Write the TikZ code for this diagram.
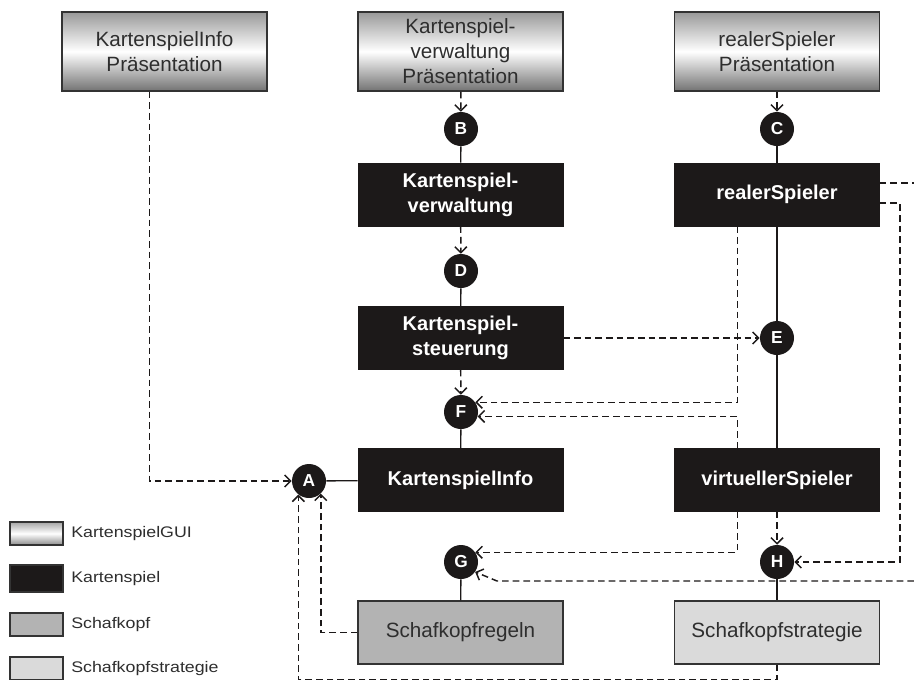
\documentclass[tikz,border=0pt]{standalone}
\usepackage{fontspec}
\setmainfont{Liberation Sans}
\usetikzlibrary{arrows.meta,calc}
\definecolor{boxblack}{HTML}{1C1919}
\definecolor{schaf}{HTML}{B3B3B3}
\definecolor{strat}{HTML}{DADADA}
\definecolor{edgegray}{HTML}{333333}
\definecolor{txtgray}{HTML}{2E2E2E}
\begin{document}
\begin{tikzpicture}[x=0.75pt,y=-0.75pt,
  gui/.style={draw=edgegray, line width=0.9pt, top color=black!40, bottom color=black!55, middle color=white,
    minimum width=153.75pt, minimum height=59.25pt, inner sep=0pt, align=center, text=txtgray,
    font=\fontsize{15.5}{18.75}\selectfont},
  kbox/.style={draw=boxblack, fill=boxblack, minimum width=153.75pt, minimum height=47.25pt,
    inner sep=0pt, align=center, text=white, font=\bfseries\fontsize{15}{18.75}\selectfont},
  sbox/.style={draw=edgegray, line width=0.9pt, minimum width=153.75pt, minimum height=47.25pt,
    inner sep=0pt, align=center, text=txtgray, font=\fontsize{15.5}{18.75}\selectfont},
  circ/.style={circle, fill=boxblack, minimum size=25.5pt, inner sep=0pt, text=white,
    font=\bfseries\fontsize{13}{13}\selectfont},
  solidline/.style={draw=boxblack, line width=1pt},
  dashline/.style={draw=boxblack, line width=1.1pt, dash pattern=on 5pt off 3pt},
  dep/.style={dashline, -{Straight Barb[length=4.5pt,width=9pt,line width=1.1pt]}},
  legbox/.style={draw=edgegray, line width=0.9pt, minimum width=39.75pt, minimum height=17.25pt, inner sep=0pt},
  legtext/.style={anchor=west, inner sep=0pt, text=txtgray, font=\fontsize{11.5}{12}\selectfont}
]
\useasboundingbox[fill=white] (0,0) rectangle (914,679);

% top GUI boxes
\node[gui] (kip) at (164.5,51.5) {KartenspielInfo\\Präsentation};
\node[gui] (kvp) at (460.5,51.5) {Kartenspiel-\\verwaltung\\Präsentation};
\node[gui] (rsp) at (777,51.5) {realerSpieler\\Präsentation};

% black boxes
\node[kbox] (kv) at (460.5,194.5) {Kartenspiel-\\verwaltung};
\node[kbox] (ks) at (460.5,338) {Kartenspiel-\\steuerung};
\node[kbox] (ki) at (460.5,480) {KartenspielInfo};
\node[kbox] (rs) at (777,194.5) {realerSpieler};
\node[kbox] (vs) at (777,480) {virtuellerSpieler};

% bottom boxes
\node[sbox, fill=schaf] (sr) at (460.5,632.5) {Schafkopfregeln};
\node[sbox, fill=strat] (ss) at (777,632.5) {Schafkopfstrategie};

% interface circles
\node[circ] (A) at (309,481) {A};
\node[circ] (B) at (461,129) {B};
\node[circ] (C) at (777,129) {C};
\node[circ] (D) at (461,271) {D};
\node[circ] (E) at (777,338) {E};
\node[circ] (F) at (461,412) {F};
\node[circ] (G) at (461,562) {G};
\node[circ] (H) at (777,562) {H};

% solid connections
\draw[solidline] (B) -- (kv);
\draw[solidline] (C) -- (rs);
\draw[solidline] (D) -- (ks);
\draw[solidline] (F) -- (ki);
\draw[solidline] (A) -- (ki);
\draw[solidline] (rs) -- (E);
\draw[solidline] (E) -- (vs);
\draw[solidline] (G) -- (sr);
\draw[solidline] (H) -- (ss);

% dependencies
\draw[dep] (kip.south) ++(-15,0) |- (A.west);
\draw[dep] (kvp) -- (B);
\draw[dep] (rsp) -- (C);
\draw[dep] (kv) -- (D);
\draw[dep] (ks) -- (F);
\draw[dep] (ks.east) -- (E.west);
\draw[dep] (rs.south west) ++(63,0) |- (F.34);
\draw[dep] (vs.north west) ++(63,0) |- (F.-15);
\draw[dep] (vs.south west) ++(63,0) |- (G.34);
\draw[dep] (vs) -- (H);
\draw[dep] (rs.east) ++(0,8.5) -- ++(20,0) |- (H.east);
\coordinate (rr) at (914,183);
\draw[dashline] (rs.east) ++(0,-11.5) -- (rr);
\coordinate (rg) at (914,581);
\draw[dep] (rg) -- ++(-417,0) -- (G.-35);
\draw[dep] (sr.west) -| (A.-47);
\draw[dep] (ss.south) -- ++(0,15) -| (A.-128);

% legend
\node[legbox, top color=black!35, bottom color=black!45, middle color=white] (l1) at (36.5,533.5) {};
\node[legbox, fill=boxblack, minimum height=20.25pt] (l2) at (36.5,578.5) {};
\node[legbox, fill=schaf] (l3) at (36.5,624.5) {};
\node[legbox, fill=strat] (l4) at (36.5,668.5) {};
\node[legtext] (t1) at (71,533.5) {\scalebox{1.16}[1]{KartenspielGUI}};
\node[legtext] (t2) at (71,578.5) {\scalebox{1.16}[1]{Kartenspiel}};
\node[legtext] (t3) at (71,624.5) {\scalebox{1.16}[1]{Schafkopf}};
\node[legtext] (t4) at (71,668.5) {\scalebox{1.16}[1]{Schafkopfstrategie}};
\end{tikzpicture}
\end{document}
